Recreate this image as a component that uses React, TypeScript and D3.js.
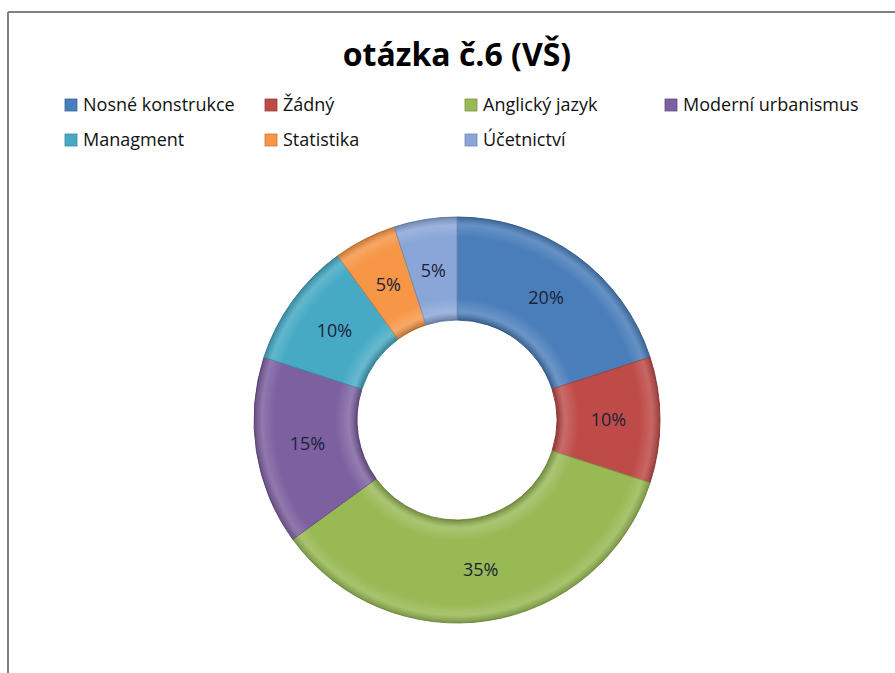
import React from "react";
import * as d3 from "d3";

const categories = [
  "Nosné konstrukce",
  "Žádný",
  "Anglický jazyk",
  "Moderní urbanismus",
  "Managment",
  "Statistika",
  "Účetnictví",
];
const percents = [20, 10, 35, 15, 10, 5, 5];
const colors = ["#4a7ebb", "#be4b48", "#98b954", "#7d60a0", "#46aac5", "#f79646", "#8aa6d8"];

const W = 895;
const H = 673;
const cx = 457;
const cy = 420;
const outerR = 203;
const innerR = 100;

export default function App() {
  const pie = d3
    .pie<number>()
    .sort(null)
    .value((d) => d);
  const arcs = pie(percents);
  const arc = d3.arc<d3.PieArcDatum<number>>().innerRadius(innerR).outerRadius(outerR);

  // legend: 4 columns, 2 rows
  const legendX = d3.scaleLinear().domain([0, 1]).range([65, 265]);
  const legendY = d3.scaleLinear().domain([0, 1]).range([105, 140]);

  return (
    <svg
      width={W}
      height={H}
      style={{ position: "absolute", left: 0, top: 0, background: "#fff" }}
      fontFamily="'Open Sans', 'Noto Sans', sans-serif"
    >
      <defs>
        <radialGradient id="bevel" gradientUnits="userSpaceOnUse" cx={0} cy={0} r={outerR}>
          <stop offset={innerR / outerR} stopColor="#000" stopOpacity={0.25} />
          <stop offset={innerR / outerR + 0.04} stopColor="#fff" stopOpacity={0.18} />
          <stop offset={0.6} stopColor="#fff" stopOpacity={0} />
          <stop offset={0.9} stopColor="#fff" stopOpacity={0} />
          <stop offset={0.96} stopColor="#fff" stopOpacity={0.15} />
          <stop offset={1} stopColor="#000" stopOpacity={0.2} />
        </radialGradient>
      </defs>

      {/* frame (clipped at right and bottom) */}
      <line x1={8} y1={12} x2={W} y2={12} stroke="#808080" strokeWidth={2} />
      <line x1={8} y1={12} x2={8} y2={H} stroke="#808080" strokeWidth={2} />

      <text
        x={457}
        y={66}
        textAnchor="middle"
        fontSize={32}
        fontWeight="bold"
        fill="#000"
      >
        otázka č.6 (VŠ)
      </text>

      {categories.map((c, i) => {
        const col = i % 4;
        const row = Math.floor(i / 4);
        const x = legendX(col);
        const y = legendY(row);
        return (
          <g key={c} transform={`translate(${x},${y})`}>
            <rect x={0} y={-6} width={12} height={12} fill={colors[i]} stroke={d3.color(colors[i])!.darker(0.6).toString()} strokeWidth={0.8} />
            <text x={18} y={0} dy="0.35em" fontSize={18} fill="#111">
              {c}
            </text>
          </g>
        );
      })}

      <g transform={`translate(${cx},${cy})`}>
        {arcs.map((a, i) => (
          <g key={i}>
            <path d={arc(a)!} fill={colors[i]} stroke={d3.color(colors[i])!.darker(0.5).toString()} strokeWidth={1} />
            <path d={arc(a)!} fill="url(#bevel)" />
          </g>
        ))}
        {arcs.map((a, i) => {
          const [x, y] = arc.centroid(a);
          return (
            <text key={`l${i}`} x={x} y={y} dy="0.35em" textAnchor="middle" fontSize={18} fill="#1a2238">
              {`${percents[i]}%`}
            </text>
          );
        })}
      </g>
    </svg>
  );
}
